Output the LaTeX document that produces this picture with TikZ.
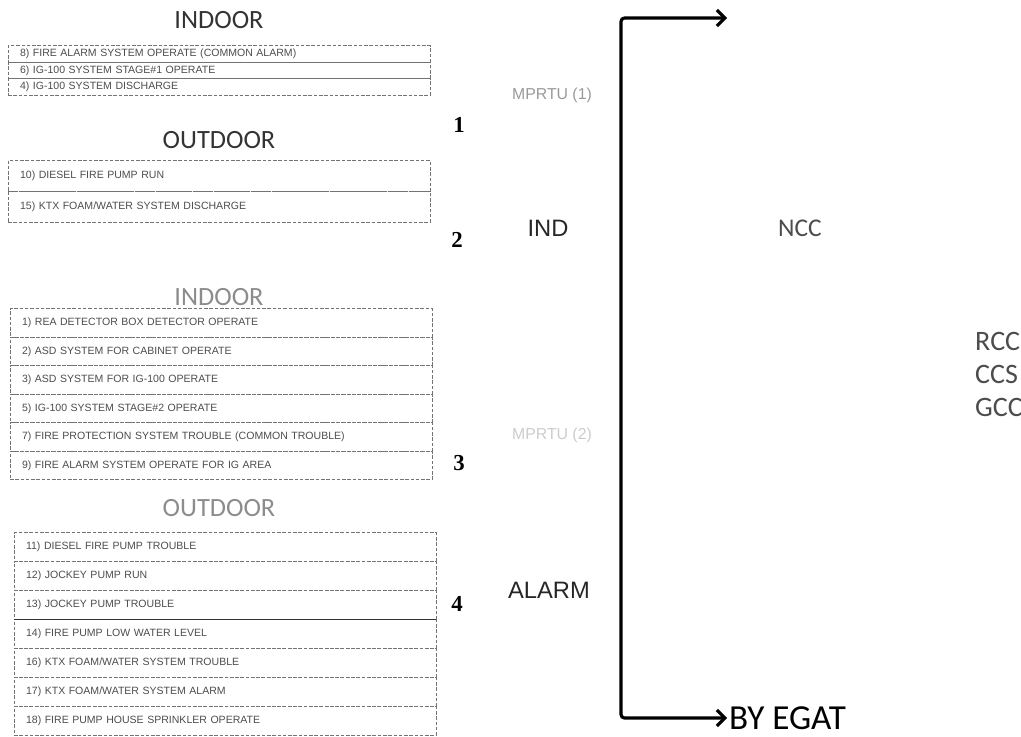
\documentclass[tikz,border=0pt]{standalone}
\usepackage{fontspec}
\setmainfont{Liberation Sans}
\newfontfamily\calfont{Carlito}
\newfontfamily\serfont{Liberation Serif}
\usetikzlibrary{positioning, arrows.meta}

\begin{document}
\begin{tikzpicture}[
    x=0.02cm, y=-0.02cm,
    font=\fontsize{6}{7}\selectfont,
    row/.style={
        rectangle, draw=black!55, dash pattern=on 2pt off 1pt, line width=0.4pt,
        minimum width=8.44cm, text width=7.96cm,
        align=left, inner xsep=0.24cm, inner ysep=0pt, outer sep=0pt,
        text=black!70,
    },
    tinyrow/.style={row, minimum height=0.33cm},
    widerow/.style={row, minimum height=0.62cm},
    midrow/.style={row, minimum height=0.57cm},
    lowrow/.style={row, minimum height=0.58cm},
    header/.style={font=\calfont\fontsize{15}{15}\selectfont, text=black!80},
    faded/.style={header, text=black!45},
    num/.style={font=\serfont\bfseries\fontsize{13}{13}\selectfont},
    tag/.style={font=\fontsize{13.5}{14}\selectfont, text=black!85},
    ghost/.style={font=\fontsize{9}{10}\selectfont, text=black!40},
    far/.style={font=\calfont\fontsize{16}{16}\selectfont, text=black!70},
    bracket/.style={{Straight Barb[length=4.5pt, width=9pt]}-{Straight Barb[length=4.5pt, width=9pt]},
        line width=1.8pt, rounded corners=2pt},
]
\useasboundingbox (0,0) rectangle (1021,737);

% --- Group 1: indoor ---
\node[header] (hin1) at (219,20) {INDOOR};
\node[tinyrow] (a8) at (219,54) {8) FIRE ALARM SYSTEM OPERATE (COMMON ALARM)};
\node[tinyrow, below=0pt of a8] (a6) {6) IG-100 SYSTEM STAGE\#1 OPERATE};
\node[tinyrow, below=0pt of a6] (a4) {4) IG-100 SYSTEM DISCHARGE};

% --- Group 2: outdoor ---
\node[header] (hout1) at (219,140) {OUTDOOR};
\node[widerow] (b10) at (219,176) {10) DIESEL FIRE PUMP RUN};
\node[widerow, below=0pt of b10] (b15) {15) KTX FOAM/WATER SYSTEM DISCHARGE};

% --- Group 3: indoor ---
\node[faded] (hin2) at (219,297) {INDOOR};
\node[midrow] (c1) at (221,323) {1) REA DETECTOR BOX DETECTOR OPERATE};
\node[midrow, below=0pt of c1] (c2) {2) ASD SYSTEM FOR CABINET OPERATE};
\node[midrow, below=0pt of c2] (c3) {3) ASD SYSTEM FOR IG-100 OPERATE};
\node[midrow, below=0pt of c3] (c5) {5) IG-100 SYSTEM STAGE\#2 OPERATE};
\node[midrow, below=0pt of c5] (c7) {7) FIRE PROTECTION SYSTEM TROUBLE (COMMON TROUBLE)};
\node[midrow, below=0pt of c7] (c9) {9) FIRE ALARM SYSTEM OPERATE FOR IG AREA};

% --- Group 4: outdoor ---
\node[faded] (hout2) at (219,508) {OUTDOOR};
\node[lowrow] (d11) at (225,547) {11) DIESEL FIRE PUMP TROUBLE};
\node[lowrow, below=0pt of d11] (d12) {12) JOCKEY PUMP RUN};
\node[lowrow, below=0pt of d12] (d13) {13) JOCKEY PUMP TROUBLE};
\node[lowrow, below=0pt of d13] (d14) {14) FIRE PUMP LOW WATER LEVEL};
\node[lowrow, below=0pt of d14] (d16) {16) KTX FOAM/WATER SYSTEM TROUBLE};
\node[lowrow, below=0pt of d16] (d17) {17) KTX FOAM/WATER SYSTEM ALARM};
\node[lowrow, below=0pt of d17] (d18) {18) FIRE PUMP HOUSE SPRINKLER OPERATE};
\draw[black!80, line width=0.5pt] (d13.south west) -- (d13.south east);

% --- Group numbers ---
\node[num] (n1) at (459,125) {1};
\node[num] (n2) at (457,240) {2};
\node[num] (n3) at (459,463) {3};
\node[num] (n4) at (457,604) {4};

% --- Middle labels ---
\node[ghost] (rtu1) at (552,95) {MPRTU (1)};
\node[tag] (ind) at (548,228) {IND};
\node[ghost, text=black!20] (rtu2) at (552,435) {MPRTU (2)};
\node[tag] (alarm) at (549,590) {ALARM};

% --- Right side ---
\node[far, font=\calfont\fontsize{14.5}{15}\selectfont] (ncc) at (800,228) {NCC};
\node[far, anchor=west] (rcc) at (969,341) {RCC};
\node[far, anchor=west] (ccs) at (969,374) {CCS};
\node[far, anchor=west] (gcc) at (969,407) {GCC};

% --- Bracket arrow ---
\node[anchor=west, inner sep=1pt, font=\calfont\fontsize{20}{20}\selectfont] (egat) at (727,718) {BY EGAT};
\coordinate (ncctip) at (727,18);
\coordinate (bendtop) at (621,18);
\coordinate (bendbot) at (621,718);
\draw[bracket] (ncctip) -- (bendtop) -- (bendbot) -- (egat.west);

\end{tikzpicture}
\end{document}
